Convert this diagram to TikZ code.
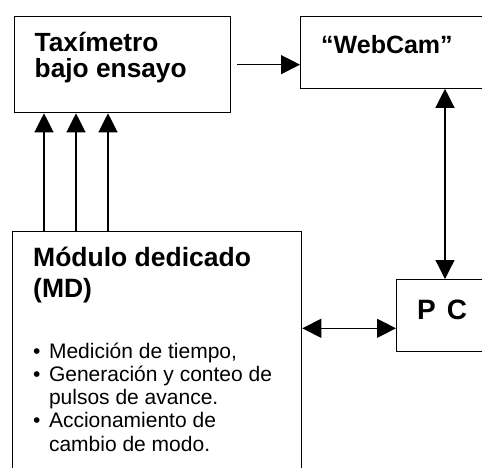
\documentclass[tikz,border=0pt]{standalone}
\usepackage{fontspec}
\setmainfont{Liberation Sans}
\usetikzlibrary{arrows.meta, positioning, calc}

\begin{document}
\begin{tikzpicture}[
  x=1pt, y=-1pt,
  box/.style={rectangle, draw, line width=1.3pt, inner sep=0pt, anchor=north west},
  label/.style={inner sep=0pt, anchor=base west, align=left, font=\bfseries},
  arrow/.style={-{Triangle[length=19pt, width=19pt]}, line width=1.3pt},
  dblarrow/.style={{Triangle[length=19pt, width=19pt]}-{Triangle[length=19pt, width=19pt]}, line width=1.3pt}
]
  \path[use as bounding box, clip] (0,0) rectangle (482,467);

  % boxes (the right and lower ones run past the edge)
  \node[box, minimum width=216pt, minimum height=96pt] (tax) at (13.5,16) {};
  \node[box, minimum width=200pt, minimum height=71.5pt] (cam) at (300,16) {};
  \node[box, minimum width=289pt, minimum height=260pt] (md) at (12,231) {};
  \node[box, minimum width=120pt, minimum height=72pt] (pc) at (396,279) {};

  % texts (base = last line)
  \node[label, font=\bfseries\fontsize{26.3}{26}\selectfont] (taxtext) at (34.5,77) {Taxímetro\\bajo ensayo};
  \node[label, font=\bfseries\fontsize{25}{26}\selectfont] (camtext) at (321,53) {“WebCam”};
  \node[label, font=\bfseries\fontsize{26.5}{31}\selectfont] (mdtext) at (33,297) {Módulo dedicado\\(MD)};
  \node[label, font=\bfseries\fontsize{28}{30}\selectfont] (pctext) at (417,319) {P\hspace{0.12em} C};
  \node[inner sep=0pt, anchor=base west, font=\fontsize{21}{23.3}\selectfont] (tasks) at (33,358)
    {\begin{tabular}[t]{@{}l@{\hspace{8.5pt}}l@{}}
      \textbullet & Medición de tiempo,\\
      \textbullet & Generación y conteo de\\
                  & pulsos de avance.\\
      \textbullet & Accionamiento de\\
                  & cambio de modo.
    \end{tabular}};

  % connectors
  \foreach \dx in {32,64,96}
    \draw[arrow] ([xshift=\dx pt]md.north west) -- ([xshift=\dx pt]md.north west |- tax.south);
  \draw[arrow] ([xshift=6.5pt]tax.east) -- (tax.east -| cam.west);
  \draw[dblarrow] ([xshift=49pt]pc.north west) -- ([xshift=49pt]pc.north west |- cam.south);
  \draw[dblarrow] ([yshift=24pt]pc.south west) -- ([yshift=24pt]pc.south west -| md.east);
\end{tikzpicture}
\end{document}
